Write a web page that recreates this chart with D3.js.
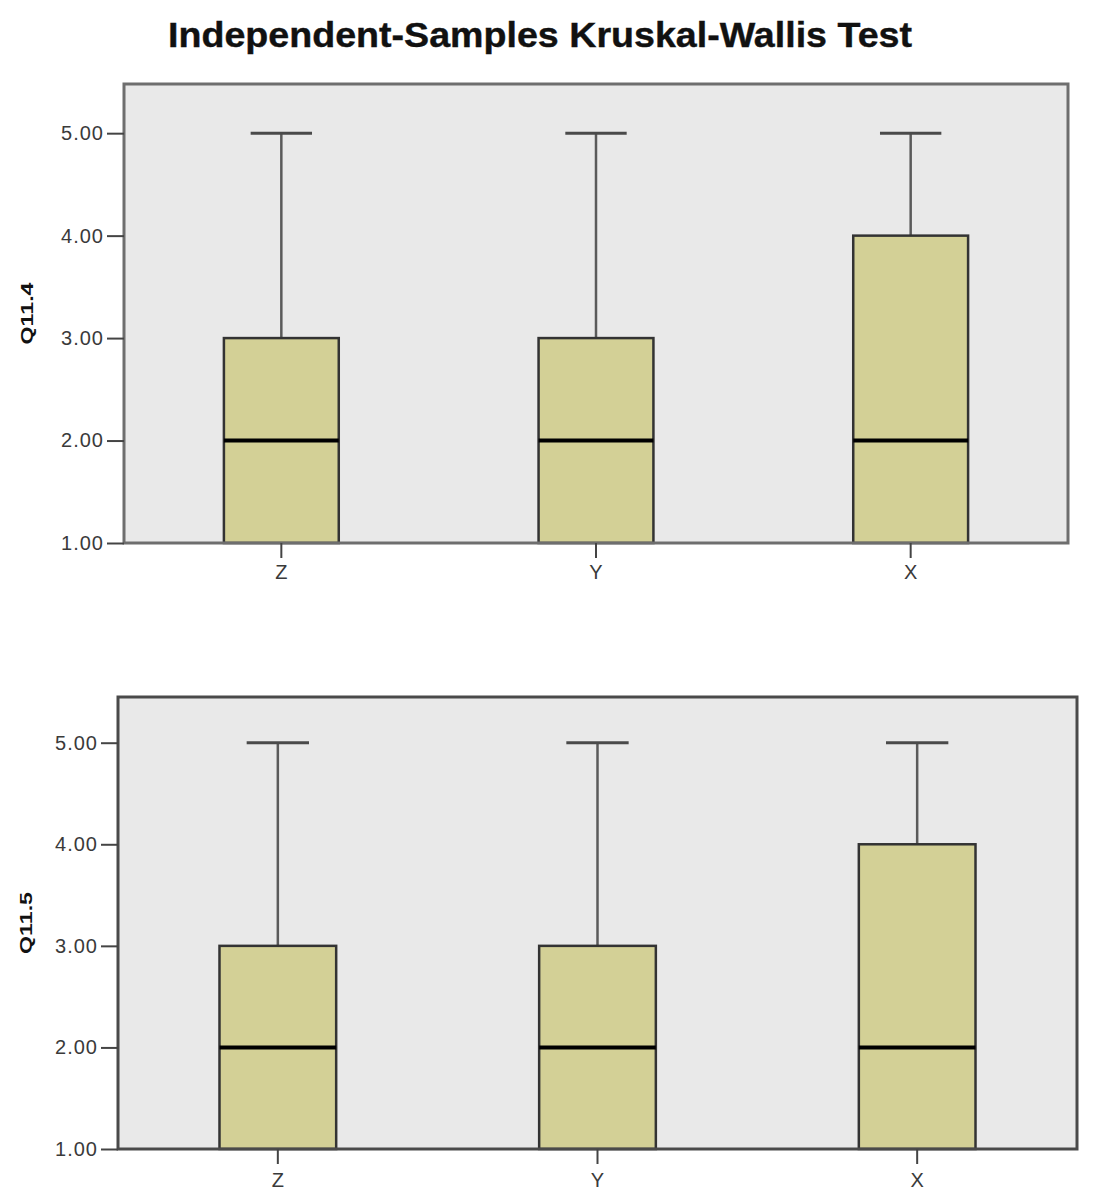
<!DOCTYPE html>
<html>
<head>
<meta charset="utf-8">
<script src="https://cdn.jsdelivr.net/npm/d3@7"></script>
<style>
  html, body { margin: 0; padding: 0; background: #fff; }
  svg { display: block; }
</style>
</head>
<body>
<svg id="chart" width="1095" height="1200"></svg>
<script>
// ---- Data ----
const titleText = "Independent-Samples Kruskal-Wallis Test";
const categories = ["Z", "Y", "X"];
const yTicks = [1, 2, 3, 4, 5];
const panelLabels = ["Q11.4", "Q11.5"];
// five-number summaries per category: [min, q1, median, q3, max]
const q114Min    = [1, 1, 1];
const q114Q1     = [1, 1, 1];
const q114Median = [2, 2, 2];
const q114Q3     = [3, 3, 4];
const q114Max    = [5, 5, 5];
const q115Min    = [1, 1, 1];
const q115Q1     = [1, 1, 1];
const q115Median = [2, 2, 2];
const q115Q3     = [3, 3, 4];
const q115Max    = [5, 5, 5];

const panelData = [
  { label: panelLabels[0], min: q114Min, q1: q114Q1, med: q114Median, q3: q114Q3, max: q114Max },
  { label: panelLabels[1], min: q115Min, q1: q115Q1, med: q115Median, q3: q115Q3, max: q115Max }
];

// ---- Layout ----
const panels = [
  { left: 124, right: 1068, top: 84, bottom: 543, yTop: 5.48, labelX: 33, frame: "#6e6e6e", xPad: 7 },
  { left: 118, right: 1077, top: 697, bottom: 1149, yTop: 5.45, labelX: 32, frame: "#4a4a4a", xPad: 9 }
];

const svg = d3.select("#chart");
const FONT = "'Liberation Sans', Arial, sans-serif";

svg.append("text")
  .attr("x", 540).attr("y", 47)
  .attr("text-anchor", "middle")
  .attr("font-family", FONT)
  .attr("font-weight", "bold")
  .attr("font-size", 35)
  .attr("fill", "#111")
  .attr("stroke", "#111").attr("stroke-width", 0.4)
  .attr("textLength", 744)
  .attr("lengthAdjust", "spacingAndGlyphs")
  .text(titleText);

panels.forEach((p, i) => {
  const d = panelData[i];
  const g = svg.append("g");

  const x = d3.scaleBand().domain(categories).range([p.left, p.right]).padding(0);
  const y = d3.scaleLinear().domain([1, p.yTop]).range([p.bottom, p.top]);

  // plot background
  g.append("rect")
    .attr("x", p.left).attr("y", p.top)
    .attr("width", p.right - p.left).attr("height", p.bottom - p.top)
    .attr("fill", "#e9e9e9");

  const bw = x.bandwidth() * 0.365;
  const capW = x.bandwidth() * 0.195;

  categories.forEach((c, k) => {
    const cx = x(c) + x.bandwidth() / 2;
    // whisker upper
    g.append("line")
      .attr("x1", cx).attr("x2", cx)
      .attr("y1", y(d.q3[k])).attr("y2", y(d.max[k]))
      .attr("stroke", "#5a5a5a").attr("stroke-width", 2.5);
    g.append("line")
      .attr("x1", cx - capW / 2).attr("x2", cx + capW / 2)
      .attr("y1", y(d.max[k])).attr("y2", y(d.max[k]))
      .attr("stroke", "#4a4a4a").attr("stroke-width", 3);
    // whisker lower
    g.append("line")
      .attr("x1", cx).attr("x2", cx)
      .attr("y1", y(d.min[k])).attr("y2", y(d.q1[k]))
      .attr("stroke", "#5a5a5a").attr("stroke-width", 2.5);
    // box
    g.append("rect")
      .attr("x", cx - bw / 2).attr("width", bw)
      .attr("y", y(d.q3[k])).attr("height", y(d.q1[k]) - y(d.q3[k]))
      .attr("fill", "#d3d096")
      .attr("stroke", "#333").attr("stroke-width", 2.5);
    // median
    g.append("line")
      .attr("x1", cx - bw / 2).attr("x2", cx + bw / 2)
      .attr("y1", y(d.med[k])).attr("y2", y(d.med[k]))
      .attr("stroke", "#000").attr("stroke-width", 4);
  });

  // frame
  g.append("rect")
    .attr("x", p.left).attr("y", p.top)
    .attr("width", p.right - p.left).attr("height", p.bottom - p.top)
    .attr("fill", "none")
    .attr("stroke", p.frame).attr("stroke-width", 3);

  // y axis
  const yAxis = d3.axisLeft(y).tickValues(yTicks).tickFormat(d3.format(".2f"))
    .tickSize(17).tickPadding(3);
  const ya = g.append("g").attr("transform", `translate(${p.left},0)`).call(yAxis);
  ya.select(".domain").remove();
  ya.selectAll(".tick line").attr("stroke", "#444").attr("stroke-width", 2);
  ya.selectAll(".tick text")
    .attr("font-family", FONT).attr("font-size", 20)
    .attr("letter-spacing", 1)
    .attr("fill", "#3a3a3a");

  // x axis
  const xAxis = d3.axisBottom(x).tickSize(15).tickPadding(p.xPad);
  const xa = g.append("g").attr("transform", `translate(0,${p.bottom})`).call(xAxis);
  xa.select(".domain").remove();
  xa.selectAll(".tick line").attr("stroke", "#444").attr("stroke-width", 2);
  xa.selectAll(".tick text")
    .attr("font-family", FONT).attr("font-size", 20)
    .attr("fill", "#3a3a3a");

  // y axis label
  g.append("text")
    .attr("transform", `translate(${p.labelX},${(p.top + p.bottom) / 2}) rotate(-90)`)
    .attr("text-anchor", "middle")
    .attr("font-family", FONT)
    .attr("font-weight", "bold")
    .attr("font-size", 16)
    .attr("fill", "#111")
    .attr("textLength", 62)
    .attr("lengthAdjust", "spacingAndGlyphs")
    .text(d.label);
});
</script>
</body>
</html>
